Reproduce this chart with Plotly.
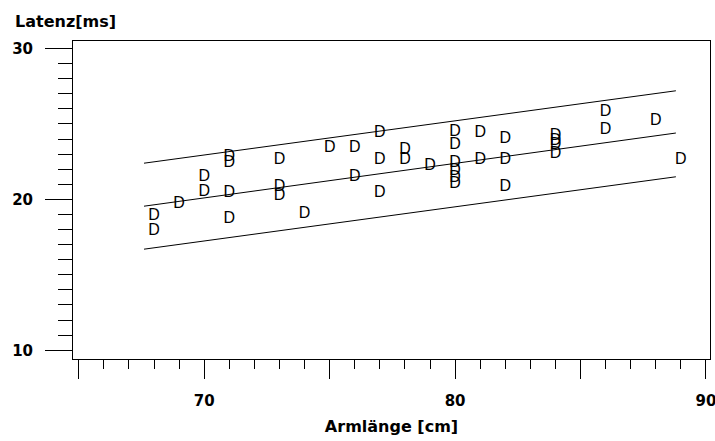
import plotly.graph_objects as go

# Measured arm length [cm] and latency [ms]
arm_length = [68, 68, 69, 70, 70, 71, 71, 71, 71, 73, 73, 73, 74, 75, 76, 76,
              77, 77, 77, 78, 78, 79, 80, 80, 80, 80, 80, 80, 81, 81, 82, 82,
              82, 84, 84, 84, 84, 86, 86, 88, 89]
latency = [18.9, 17.9, 19.7, 21.5, 20.5, 22.8, 22.4, 20.4, 18.7, 22.6, 20.8,
           20.2, 19.0, 23.4, 23.4, 21.5, 24.4, 22.6, 20.4, 23.3, 22.6, 22.2,
           24.5, 23.6, 22.4, 21.9, 21.4, 21.0, 24.4, 22.6, 24.0, 22.6, 20.8,
           24.2, 23.9, 23.6, 23.0, 25.8, 24.6, 25.2, 22.6]

# Regression line and band limits
fit_x = [67.6, 88.8]
fit_mid = [19.55, 24.4]
fit_upper = [22.4, 27.2]
fit_lower = [16.7, 21.5]

x_tickvals = [65, 70, 75, 80, 85, 90]
x_ticktext = ["", "70", "", "80", "", "90"]
y_tickvals = [10, 20, 30]
y_ticktext = ["10", "20", "30"]

FONT = "DejaVu Sans"

fig = go.Figure()
for ys in (fit_upper, fit_mid, fit_lower):
    fig.add_trace(go.Scatter(x=fit_x, y=ys, mode="lines",
                             line=dict(color="black", width=1),
                             hoverinfo="skip", showlegend=False))

fig.add_trace(go.Scatter(x=arm_length, y=latency, mode="text", text="D",
                         textposition="middle center",
                         textfont=dict(family="Liberation Sans", size=16,
                                       color="black"),
                         showlegend=False))

fig.update_layout(
    width=715, height=441, autosize=False,
    margin=dict(l=73, r=5, t=41, b=82),
    plot_bgcolor="white", paper_bgcolor="white",
    font=dict(family=FONT, color="black"),
    xaxis=dict(
        range=[64.77, 90.16], tickmode="array",
        tickvals=x_tickvals, ticktext=x_ticktext,
        ticks="outside", ticklen=19, tickwidth=1, tickcolor="black",
        minor=dict(dtick=1, tick0=0, ticks="outside", ticklen=9,
                   tickwidth=1, tickcolor="black", showgrid=False),
        showline=True, linecolor="black", linewidth=1, mirror=True,
        showgrid=False, zeroline=False, automargin=False,
        tickfont=dict(family=FONT, size=15, weight="bold"),
        ticklabelstandoff=9, ticklabeloverflow="allow",
        title=dict(text="<b>Armlänge [cm]</b>",
                   font=dict(family=FONT, size=16), standoff=11),
    ),
    yaxis=dict(
        range=[9.42, 30.5], tickmode="array",
        tickvals=y_tickvals, ticktext=y_ticktext,
        ticks="outside", ticklen=27, tickwidth=1, tickcolor="black",
        minor=dict(dtick=1, tick0=0, ticks="outside", ticklen=14,
                   tickwidth=1, tickcolor="black", showgrid=False),
        showline=True, linecolor="black", linewidth=1, mirror=True,
        showgrid=False, zeroline=False, automargin=False,
        tickfont=dict(family=FONT, size=15, weight="bold"),
        ticklabelstandoff=9,
    ),
    annotations=[dict(
        text="<b>Latenz[ms]</b>", xref="paper", yref="paper",
        x=-0.094, y=1.062, xanchor="left", yanchor="middle",
        showarrow=False, font=dict(family=FONT, size=16),
    )],
)

fig.write_html("out.html")
